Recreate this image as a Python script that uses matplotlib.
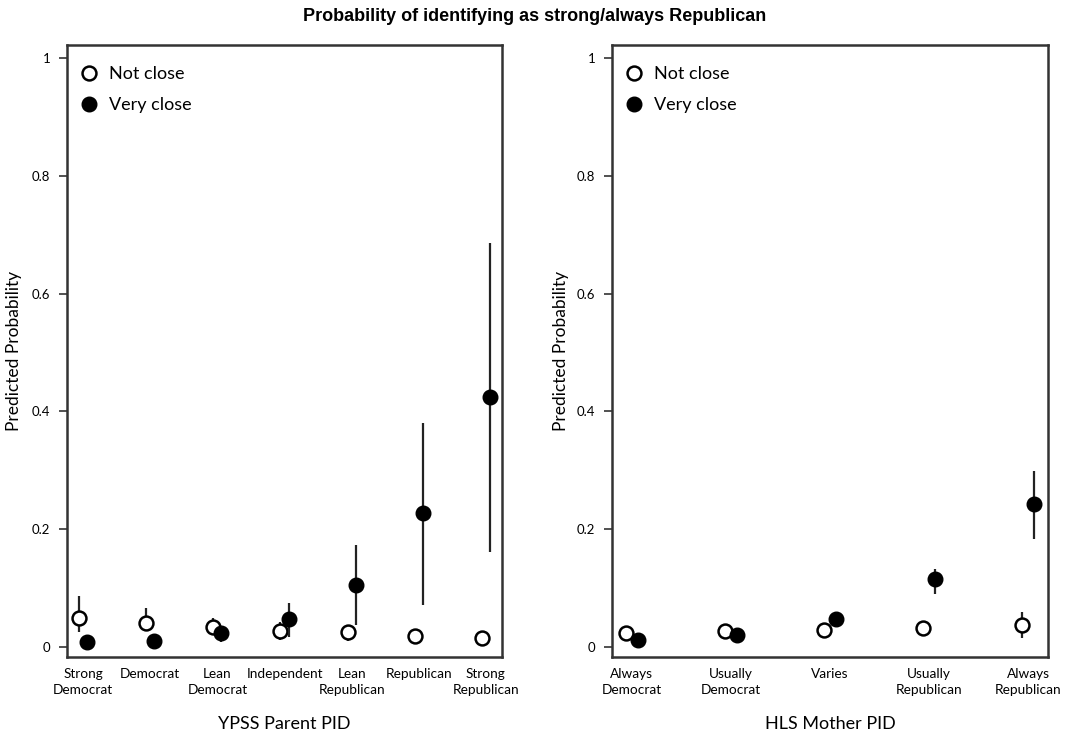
import matplotlib
matplotlib.use("Agg")
import matplotlib.pyplot as plt
from matplotlib.lines import Line2D

# ---- data ----
left_cats = ["Strong\nDemocrat", "Democrat", "Lean\nDemocrat", "Independent",
             "Lean\nRepublican", "Republican", "Strong\nRepublican"]
left_not = [0.049, 0.041, 0.034, 0.028, 0.025, 0.019, 0.016]
left_not_lo = [0.025, 0.029, 0.024, 0.012, 0.010, 0.012, 0.010]
left_not_hi = [0.086, 0.066, 0.050, 0.042, 0.036, 0.028, 0.024]
left_very = [0.008, 0.011, 0.023, 0.047, 0.105, 0.228, 0.424]
left_very_lo = [0.002, 0.003, 0.008, 0.017, 0.037, 0.072, 0.161]
left_very_hi = [0.020, 0.022, 0.034, 0.075, 0.173, 0.380, 0.686]

right_cats = ["Always\nDemocrat", "Usually\nDemocrat", "Varies", "Usually\nRepublican", "Always\nRepublican"]
right_not = [0.024, 0.027, 0.029, 0.032, 0.038]
right_not_lo = [0.010, 0.018, 0.020, 0.020, 0.015]
right_not_hi = [0.033, 0.034, 0.036, 0.044, 0.059]
right_very = [0.012, 0.020, 0.048, 0.115, 0.243]
right_very_lo = [0.006, 0.014, 0.040, 0.090, 0.183]
right_very_hi = [0.018, 0.026, 0.056, 0.133, 0.298]

yticks = [0, 0.2, 0.4, 0.6, 0.8, 1]
ytick_labels = ["0", "0.2", "0.4", "0.6", "0.8", "1"]

title = "Probability of identifying as strong/always Republican"
xlabels = ["YPSS Parent PID", "HLS Mother PID"]
ylabel = "Predicted Probability"

# ---- style ----
plt.rcParams['font.family'] = ['Lato', 'DejaVu Sans']
line_color = "#222222"
spine_color = "#333333"
off = 0.06

fig = plt.figure(figsize=(10.69, 7.35), dpi=100)
ax1 = fig.add_axes([0.0627, 0.1061, 0.4069, 0.8327])
ax2 = fig.add_axes([0.5725, 0.1061, 0.4079, 0.8327])


def panel(ax, cats, nv, nlo, nhi, vv, vlo, vhi, xlabel, xlim, ylab_x):
    n = len(cats)
    xs = list(range(1, n + 1))
    xn = [x - off for x in xs]
    xv = [x + off for x in xs]
    ax.vlines(xn, nlo, nhi, color=line_color, lw=1.6, zorder=2)
    ax.plot(xn, nv, 'o', ms=10, mfc='white', mec='black', mew=1.8, ls='none', zorder=3)
    ax.vlines(xv, vlo, vhi, color=line_color, lw=1.6, zorder=4)
    ax.plot(xv, vv, 'o', ms=10.5, mfc='black', mec='black', ls='none', zorder=5)
    ax.set_xlim(*xlim)
    ax.set_ylim(-0.017, 1.022)
    ax.set_xticks(xs)
    ax.set_xticklabels(cats, fontsize=9.8, linespacing=1.35)
    ax.tick_params(axis='x', length=0, pad=8)
    ax.set_yticks(yticks)
    ax.set_yticklabels(ytick_labels, fontsize=9.5)
    ax.tick_params(axis='y', direction='out', length=6, width=1.2, color=spine_color, pad=6)
    for s in ax.spines.values():
        s.set_linewidth(1.8)
        s.set_color(spine_color)
    ax.set_xlabel(xlabel, fontsize=13, labelpad=15)
    ax.set_ylabel(ylabel, fontsize=12.5)
    ax.yaxis.set_label_coords(ylab_x, 0.5)
    handles = [
        Line2D([], [], marker='o', ms=10, mfc='white', mec='black', mew=1.8, ls='none'),
        Line2D([], [], marker='o', ms=10.5, mfc='black', mec='black', ls='none'),
    ]
    ax.legend(handles, ["Not close", "Very close"], loc='upper left', frameon=False,
              fontsize=13, handlelength=1.0, handletextpad=0.6, labelspacing=0.85,
              borderaxespad=0.3, bbox_to_anchor=(0.0, 0.9865))


panel(ax1, left_cats, left_not, left_not_lo, left_not_hi,
      left_very, left_very_lo, left_very_hi, xlabels[0], (0.76, 7.24), -0.103)
panel(ax2, right_cats, right_not, right_not_lo, right_not_hi,
      right_very, right_very_lo, right_very_hi, xlabels[1], (0.8, 5.2), -0.099)

fig.text(0.5, 0.977, title, ha='center', va='center', fontsize=13,
         fontweight='bold', family=['Liberation Sans', 'DejaVu Sans'])

fig.savefig("out.png", dpi=100)
